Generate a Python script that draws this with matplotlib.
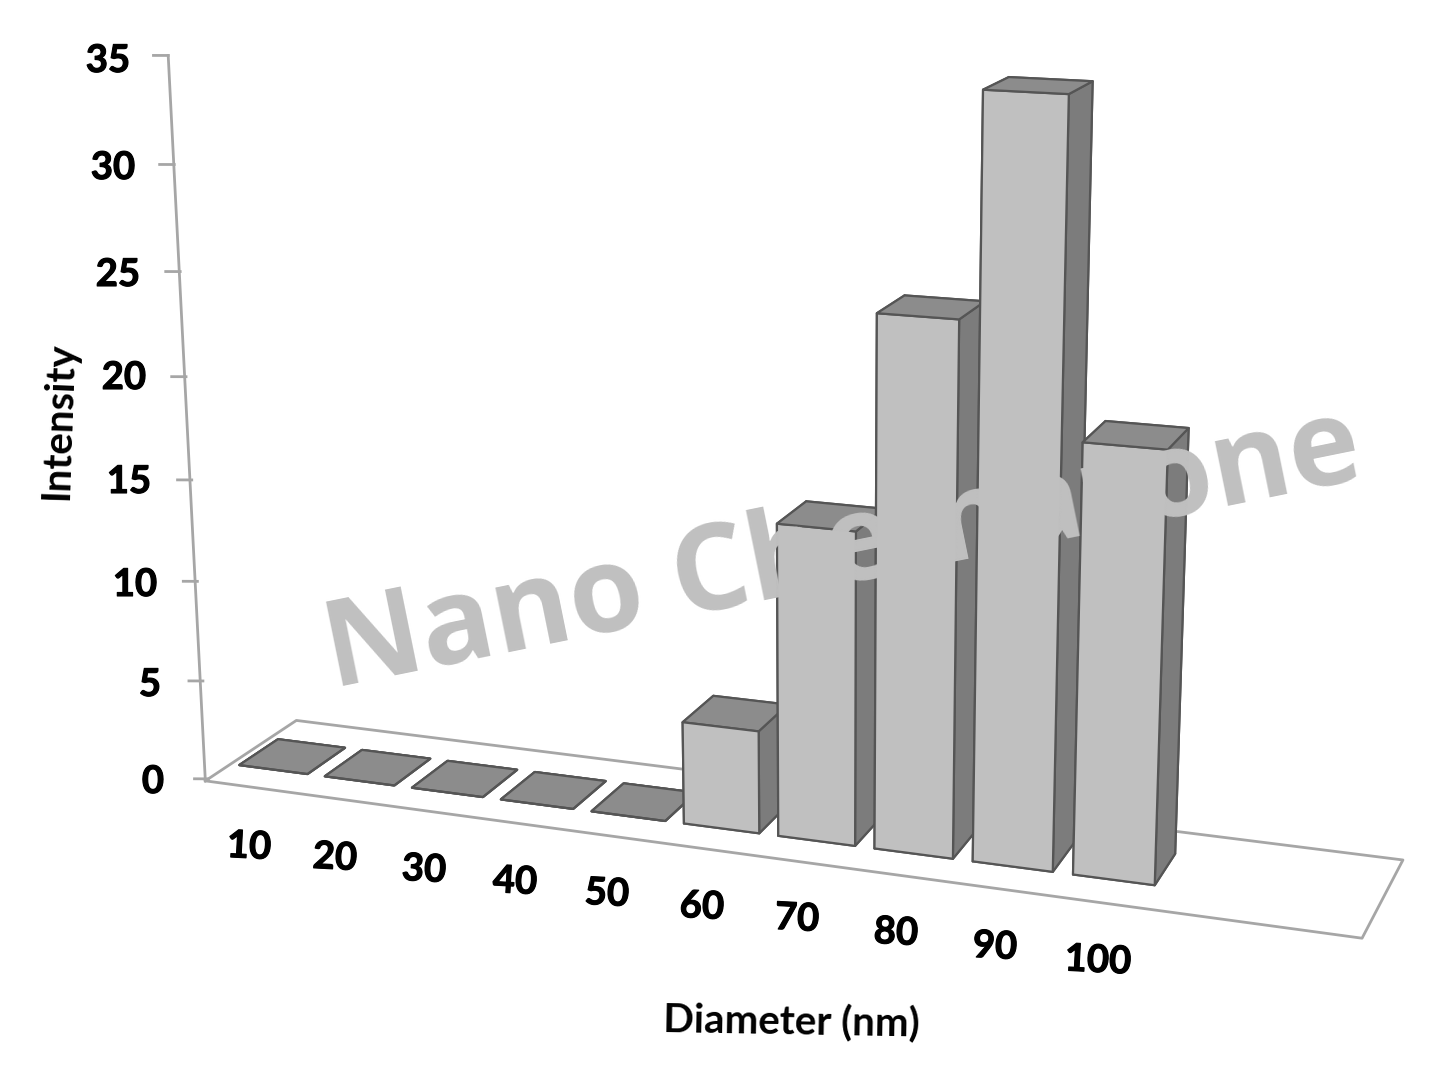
import numpy as np
import matplotlib
matplotlib.use("Agg")
import matplotlib.pyplot as plt
import matplotlib.patheffects as pe

diametros = ["10", "20", "30", "40", "50", "60", "70", "80", "90", "100"]
intensidade = [0, 0, 0, 0, 0, 5, 15, 25, 35, 20]
ticks_y = [0, 5, 10, 15, 20, 25, 30, 35]

# camera fitted on the picture: model x,y,z -> image pixels
camera = np.array([
    [83.010129, 100.905674, -1.433546, 165.838881],
    [3.866867, -20.526127, -20.665925, 773.194906],
    [-0.009574, 0.05064, -0.001737, 1.0],
])

W, H = 1437, 1077
fig = plt.figure(figsize=(W / 100, H / 100), dpi=100, facecolor="white")
# 3d axes are always square, so make the square wider than the figure height
ax = fig.add_axes([0, -(W - H) / (2 * H), 1, W / H], projection="3d",
                  proj_type="ortho", computed_zorder=False)
ax.set_axis_off()
ax.patch.set_visible(False)
ax.apply_aspect()

flip = np.array([[1, 0, 0], [0, -1, H], [0, 0, 1.0]])
para_tela = ax.transData.inverted().get_matrix() @ flip @ camera
M = np.array([para_tela[0], para_tela[1], [0, 0, 0, -1.0], para_tela[2]])
ax.get_proj = lambda: M

linha = "#a6a6a6"
# floor outline, wall line and the ticks on it
ax.plot([0.5, 12.477, 12.515, 0.5, 0.5], [-0.033, -0.069, 1.009, 1.02, -0.033], [0, 0, 0, 0, 0],
        color=linha, lw=2, zorder=1)
ax.plot([0.5, 0.5], [-0.033, 0], [0, 35], color=linha, lw=2, zorder=1)
for t in ticks_y:
    ax.plot([0.5, 0.364], [0, -0.0245], [t, t], color=linha, lw=2, zorder=1)

frente, topo, lado, borda = "#c0c0c0", "#8c8c8c", "#7c7c7c", "#555555"
for i, v in enumerate(intensidade):
    ax.bar3d(i + 0.6, 0.25, 0, 0.8, 0.45, v, shade=False,
             color=[topo, topo, frente, lado, lado, lado],
             edgecolor=borda, linewidth=1.6, zorder=2 + i)

# texts go on a clear axes above the 3d one, in image pixels
tela = fig.add_axes([0, 0, 1, 1], zorder=30)
tela.set_xlim(0, W)
tela.set_ylim(H, 0)
tela.axis("off")

grosso = [pe.withStroke(linewidth=0.8, foreground="black")]

def txt(x, y, s, **kw):
    tela.text(x, y, s, ha="center", va="center", family="Lato",
              fontweight="bold", color="black", **kw)

pos_y = [(153, 782), (150, 685), (135, 585), (129, 482), (124, 378), (118, 275), (113, 168), (108, 61)]
for t, (px, py) in zip(ticks_y, pos_y):
    txt(px, py, str(t), fontsize=27.5, path_effects=grosso)

pos_x = [(249, 847), (335, 858), (424, 870), (515, 882), (607, 894),
         (702, 907), (797, 919), (896, 933), (995, 947), (1098, 961)]
for d, (px, py) in zip(diametros, pos_x):
    txt(px, py, d, fontsize=27.5, rotation=-3, path_effects=grosso)

txt(791, 1023, "Diameter (nm)", fontsize=29, rotation=-1)
txt(59, 420, "Intensity", fontsize=29, rotation=88)

tela.text(843, 552, "Nano Chemazone", ha="center", va="center",
          family="Open Sans", fontweight="bold", fontsize=86.5, rotation=11.5,
          color="#c0c0c0")

fig.savefig("out.png", dpi=100)
